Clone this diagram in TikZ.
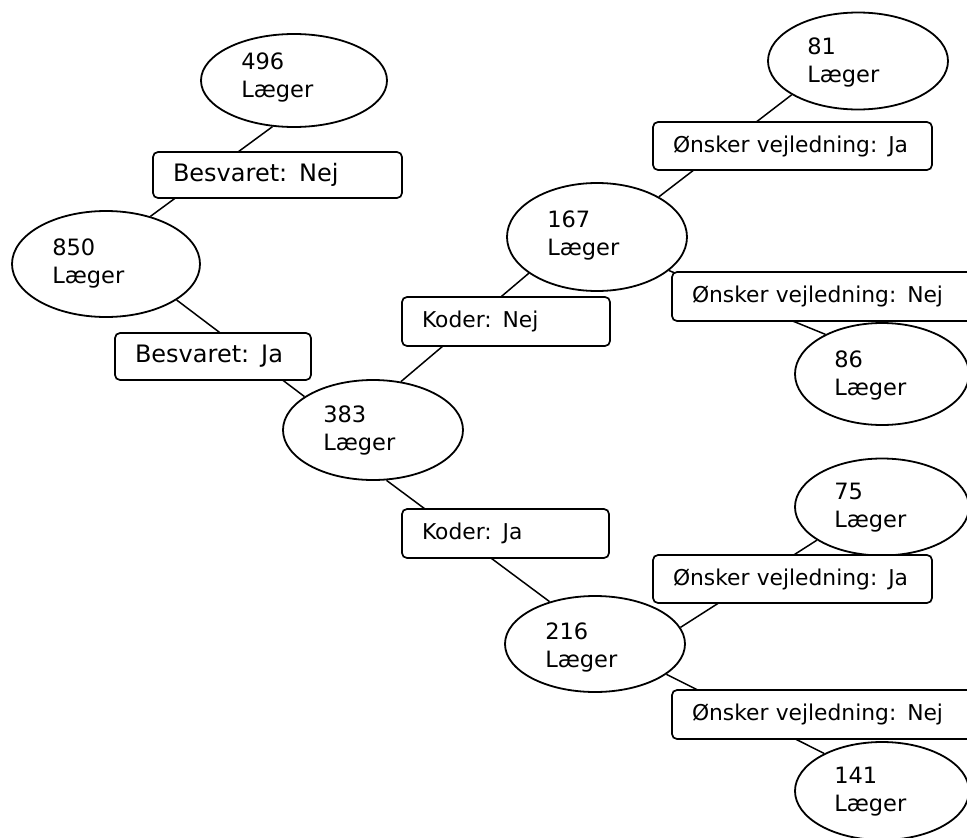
\documentclass[tikz,border=0pt]{standalone}
\usepackage{fontspec}
\setmainfont{DejaVu Sans}
\usetikzlibrary{shapes.geometric,calc}

\begin{document}
\begin{tikzpicture}[x=1pt,y=-1pt,
  group/.style={draw, ellipse, line width=1.8pt, inner sep=0pt},
  count/.style={anchor=west, align=left, inner sep=0pt,
    font=\fontsize{22.5}{28}\selectfont},
  crit/.style={draw, rounded corners=5pt, line width=1.7pt, fill=white,
    align=left, inner xsep=20pt, inner ysep=0pt,
    font=\fontsize{21.8}{25}\selectfont},
  bigcrit/.style={crit, font=\fontsize{24}{28}\selectfont},
  link/.style={line width=1.5pt}]

\useasboundingbox (0,0) rectangle (967,838);

% population groups
\node[group, minimum width=186, minimum height=93]  (n496) at (294,80.5) {};
\node[group, minimum width=188, minimum height=106] (n850) at (106,264) {};
\node[group, minimum width=180, minimum height=100] (n383) at (373,430) {};
\node[group, minimum width=180, minimum height=108] (n167) at (597,237) {};
\node[group, minimum width=180, minimum height=97]  (n81)  at (858,61) {};
\node[group, minimum width=174, minimum height=102] (n86)  at (882,374) {};
\node[group, minimum width=180, minimum height=96]  (n216) at (595,644) {};
\node[group, minimum width=174, minimum height=97]  (n75)  at (882,507) {};
\node[group, minimum width=174, minimum height=98]  (n141) at (882,791) {};

\node[count] (t496) at ($(n496.west)+(41,-3)$) {496\\Læger};
\node[count] (t850) at ($(n850.west)+(41,-1)$) {850\\Læger};
\node[count] (t383) at ($(n383.west)+(41,0)$) {383\\Læger};
\node[count] (t167) at ($(n167.west)+(41,-2)$) {167\\Læger};
\node[count] (t81)  at ($(n81.west)+(40,1)$)  {81\\Læger};
\node[count] (t86)  at ($(n86.west)+(40,1)$)  {86\\Læger};
\node[count] (t216) at ($(n216.west)+(41,3)$) {216\\Læger};
\node[count] (t75)  at ($(n75.west)+(40,1)$)  {75\\Læger};
\node[count] (t141) at ($(n141.west)+(40,1)$) {141\\Læger};

% branches
\draw[link] (n850.47)  -- (n496.245);
\draw[link] (n850.333) -- (n383.154);
\draw[link] (n383.60)  -- (n167.208);
\draw[link] (n383.285) -- (n216.137);
\draw[link] (n167.33)  -- (n81.207);
\draw[link] (n167.335) -- (n86.145);
\draw[link] (n216.11)  -- (n75.207);
\draw[link] (n216.337) -- (n141.147);

% branch conditions
\node[bigcrit, text width=209, minimum height=46] (bnej) at (277.5,175) {Besvaret: Nej};
\node[bigcrit, text width=156, minimum height=47] (bja)  at (213,356.5) {Besvaret: Ja};
\node[crit, text width=168, minimum height=49] (knej) at (506,321.5) {Koder: Nej};
\node[crit, text width=167, minimum height=49] (kja)  at (505.5,533.5) {Koder: Ja};
\node[crit, text width=239, minimum height=48] (vja1)  at (792.5,146) {Ønsker vejledning: Ja};
\node[crit, text width=268, minimum height=49] (vnej1) at (826,296.5) {Ønsker vejledning: Nej};
\node[crit, text width=239, minimum height=48] (vja2)  at (792.5,579) {Ønsker vejledning: Ja};
\node[crit, text width=268, minimum height=49] (vnej2) at (826,714.5) {Ønsker vejledning: Nej};

\end{tikzpicture}
\end{document}
